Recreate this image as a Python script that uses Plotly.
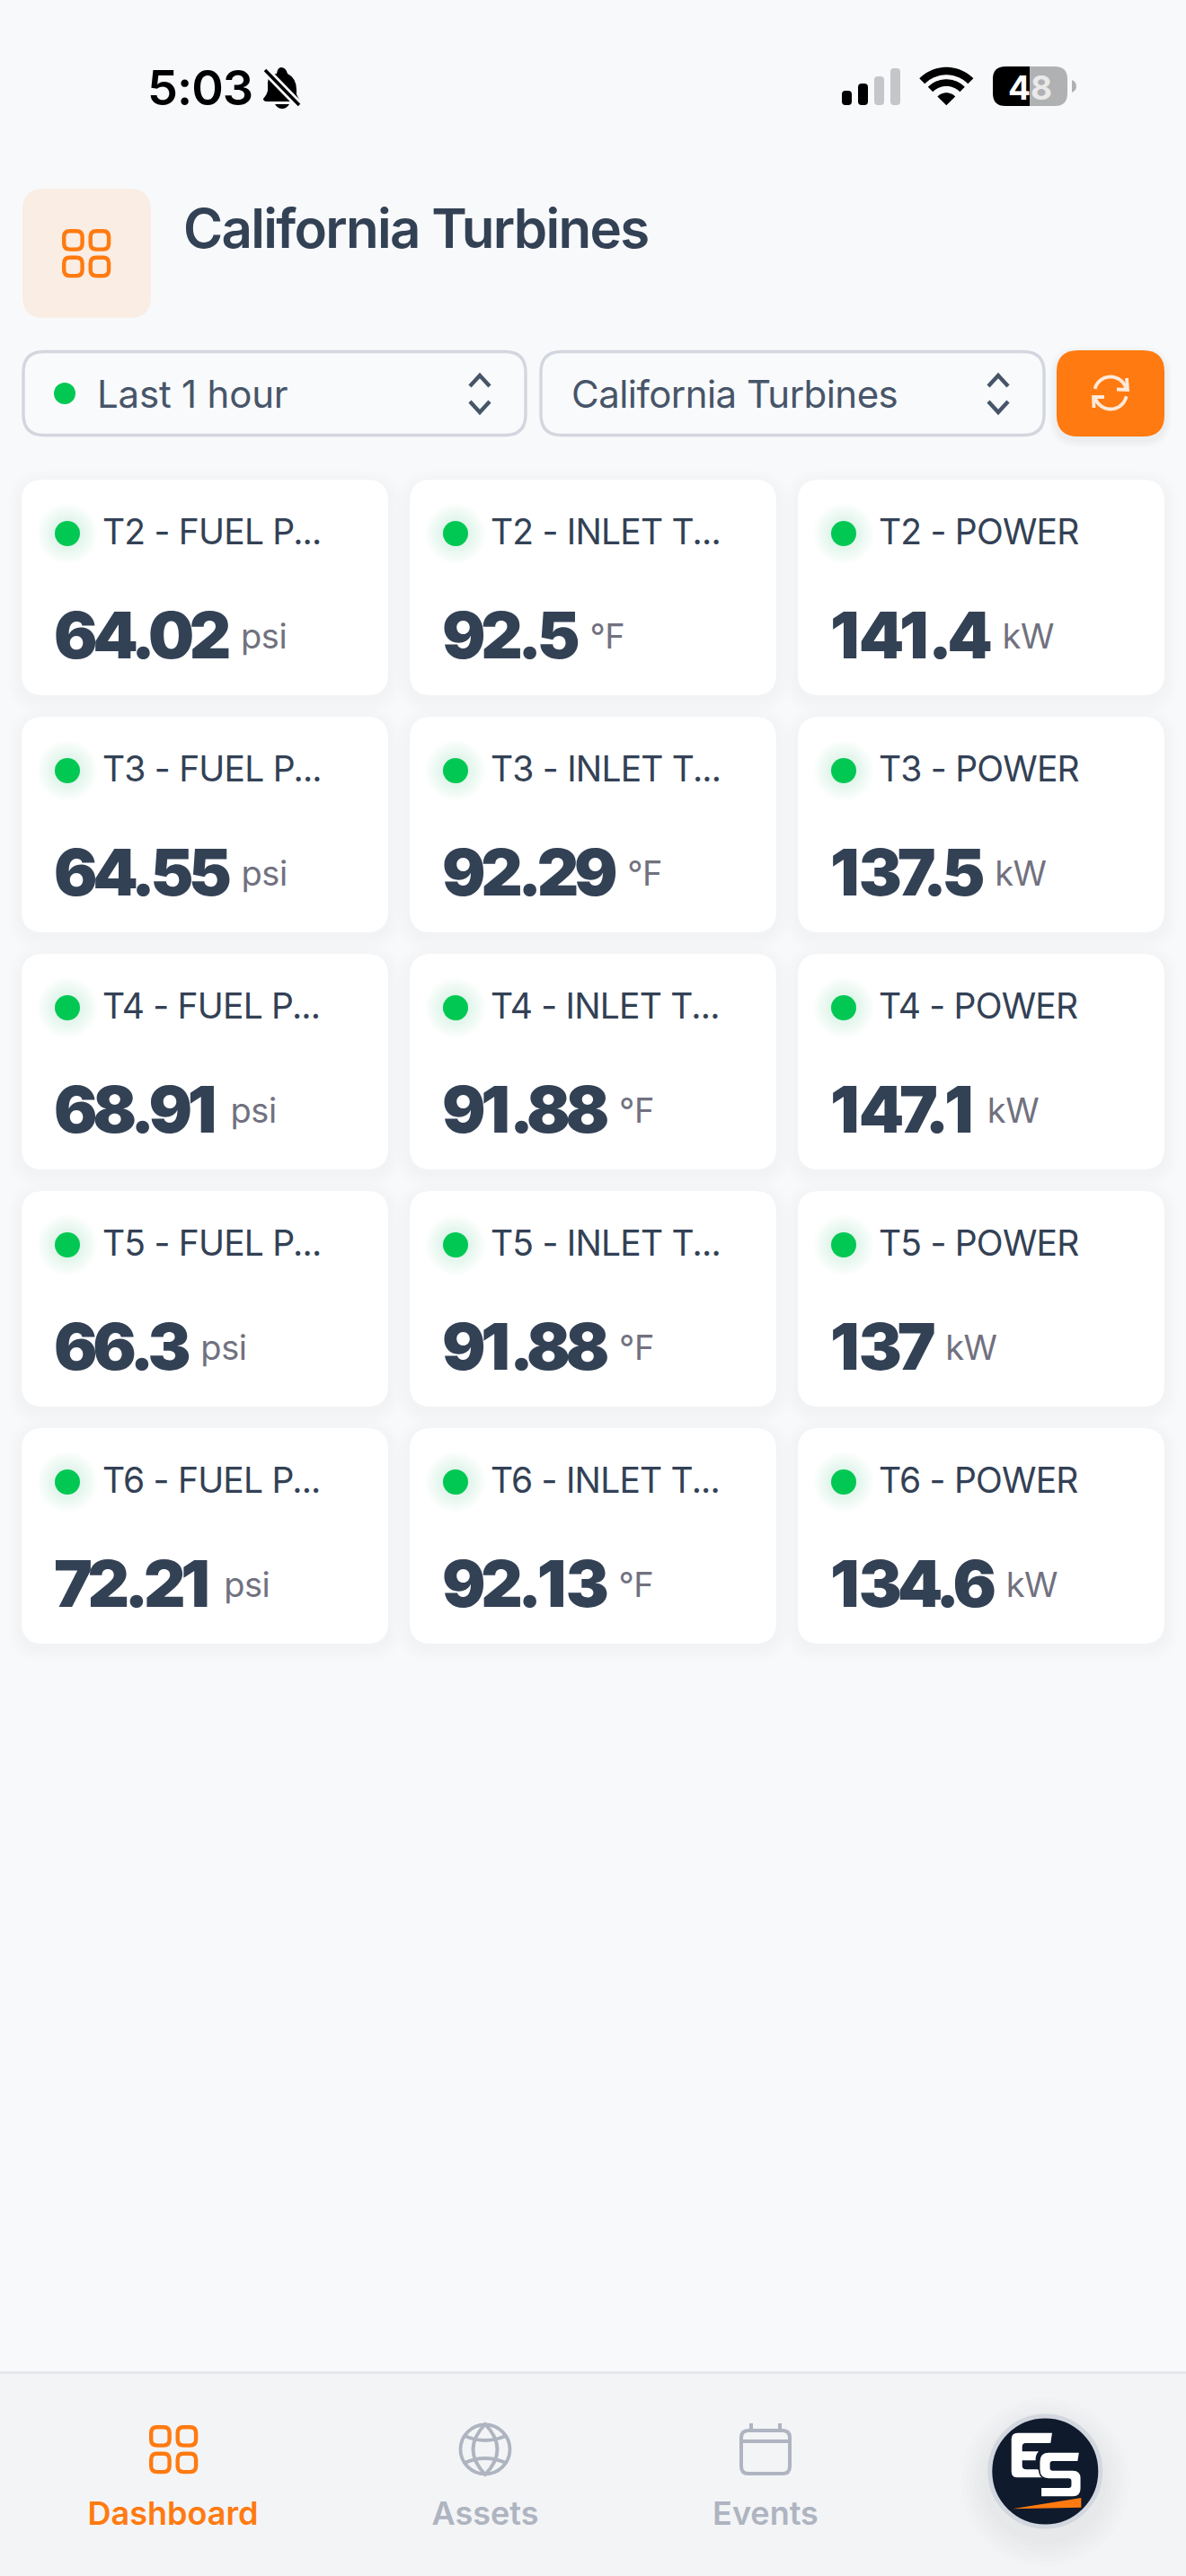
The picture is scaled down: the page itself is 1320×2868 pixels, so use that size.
import numpy as np
import plotly.graph_objects as go

# turbine readings, one list per column of the dashboard
turbines = ['T2', 'T3', 'T4', 'T5', 'T6']
metric_labels = ['FUEL P...', 'INLET T...', 'POWER']
metric_units = ['psi', '°F', 'kW']
fuel_psi = [64.02, 64.55, 68.91, 66.3, 72.21]
inlet_f = [92.5, 92.29, 91.88, 91.88, 92.13]
power_kw = [141.4, 137.5, 147.1, 137, 134.6]
nav_labels = ['Dashboard', 'Assets', 'Events']

W, H = 1320, 2868
BG = '#f8f9fb'
NAV_BG = '#f3f4f6'
ORANGE = '#ff7a10'
SLATE = '#334155'
SLATE_SOFT = '#475569'
UNIT_GREY = '#71717f'
NAV_GREY = '#aeb4c0'
GREEN = '#00c853'
BORDER = '#d3d6de'
FONT = 'Inter'

CARD_X = [24, 456, 888]
CARD_TOP = 534
CARD_W, CARD_H, ROW_STEP = 408, 240, 264

shapes = []
fig = go.Figure()


def rr_path(x0, y0, x1, y1, r):
  '''Rounded rectangle as an svg path'''
  return (f'M{x0 + r},{y0} L{x1 - r},{y0} Q{x1},{y0} {x1},{y0 + r} L{x1},{y1 - r} Q{x1},{y1} {x1 - r},{y1} '
          f'L{x0 + r},{y1} Q{x0},{y1} {x0},{y1 - r} L{x0},{y0 + r} Q{x0},{y0} {x0 + r},{y0} Z')


def add_path(path, fill=None, line=None, width=0, opacity=1):
  shapes.append(dict(type='path', path=path, fillcolor=fill or 'rgba(0,0,0,0)', opacity=opacity, layer='below',
                     line=dict(color=line or 'rgba(0,0,0,0)', width=width)))


def add_shadow(x0, y0, x1, y1, r, dy, spread, steps=6, alpha=0.005):
  '''Soft drop shadow made of stacked translucent rectangles'''
  for i in range(steps):
    grow = spread * (1 - i / steps)
    add_path(rr_path(x0 - grow, y0 - grow + dy, x1 + grow, y1 + grow + dy, r + grow), fill=f'rgba(15,23,42,{alpha})')


def add_circle(cx, cy, r, fill=None, line=None, width=0):
  shapes.append(dict(type='circle', x0=cx - r, x1=cx + r, y0=cy - r, y1=cy + r, layer='below',
                     fillcolor=fill or 'rgba(0,0,0,0)', line=dict(color=line or 'rgba(0,0,0,0)', width=width)))


def polyline(points, close=False):
  return 'M' + ' L'.join(f'{x:.2f},{y:.2f}' for x, y in points) + (' Z' if close else '')


def arc_points(cx, cy, r, a0, a1, n=24):
  '''Angles in degrees, 0 = right, 90 = down'''
  t = np.radians(np.linspace(a0, a1, n))
  return list(zip(cx + r * np.cos(t), cy + r * np.sin(t)))


def add_text(x, y, text, size, color, weight=400, align='right', spacing=0):
  '''y is the text baseline, plotly sits the text about a quarter of the size above the point'''
  span = f'<span style="letter-spacing:{spacing}px">{text}</span>' if spacing else text
  fig.add_trace(go.Scatter(x=[x], y=[y + 0.25 * size], mode='text', text=[span], textposition=f'top {align}',
                           cliponaxis=False, hoverinfo='skip', showlegend=False,
                           textfont=dict(family=FONT, size=size, color=color, weight=weight)))


def reading_text(value, unit):
  '''Big tight number followed by the small unit, raised to the middle of the digits'''
  digits = ''
  for ch in f'{value:g}':
    # the 1 runs a bit wider in the reference than in this font
    gap = -0.7 if ch == '1' else -5.4
    digits += f'<span style="letter-spacing:{gap}px">{ch}</span>'
  spacer = '<span style="font-size:38px;letter-spacing:8.5px"> </span>'
  small = (f'<span style="font-size:38px;font-weight:400;fill:{UNIT_GREY};letter-spacing:-0.5px;'
           f'baseline-shift:11px">{unit}</span>')
  return digits + spacer + small


def grid_icon(x0, y0, color):
  for dx in (0, 29.5):
    for dy in (0, 29.5):
      add_path(rr_path(x0 + dx + 2.2, y0 + dy + 2.2, x0 + dx + 22.6, y0 + dy + 22.6, 6.5), line=color, width=4.4)


def status_bar():
  add_text(164, 117, '5:03', 54, '#000000', 600, spacing=-1)
  # muted bell
  add_path('M313,75 Q318,75 320,82 Q330,87 330,100 L330,105 Q332,110 335,113 L297,113 Q293,113 293,110 '
           'Q298,104 298,100 L298,92 Q298,83 308,82 Q309,75 313,75 Z', fill='#000000')
  add_path('M306,116 L322,116 Q319,121 314,121 Q309,121 306,116 Z', fill='#000000')
  add_path('M293,76 L334,118', line=BG, width=9)
  add_path('M295,78 L333,117', line='#000000', width=3.6)
  # signal bars
  bars = [(937, 101, '#000000'), (955, 93, '#000000'), (973, 85, '#c4c6c9'), (991, 76, '#c4c6c9')]
  for x, top, color in bars:
    add_path(rr_path(x, top, x + 11, 117, 4), fill=color)
  # wifi
  ax, ay = 1053.3, 117.3
  for r_in, r_out in ((34, 42.5), (21.3, 29)):
    pts = arc_points(ax, ay, r_out, -135, -45) + arc_points(ax, ay, r_in, -45, -135)
    add_path(polyline(pts, True), fill='#000000')
  add_path(polyline([(ax, ay)] + arc_points(ax, ay, 14, -135, -45), True), fill='#000000')
  # battery, black up to the charge level
  add_path('M1146,74 L1119,74 Q1105,74 1105,88 L1105,104 Q1105,118 1119,118 L1146,118 Z', fill='#000000')
  add_path('M1146,74 L1174,74 Q1188,74 1188,88 L1188,104 Q1188,118 1174,118 L1146,118 Z', fill='#b0b1b3')
  add_path('M1193,89 Q1198,91 1198,96 Q1198,101 1193,103 Z', fill='#b0b1b3')
  add_text(1146.5, 110.5, '4<span style="fill:#e9e9e9">8</span>', 37, '#ffffff', 700, 'center')


def header():
  add_path(rr_path(25, 210, 168, 354, 24), fill='#f9ede4')
  grid_icon(69, 255, ORANGE)
  add_text(204, 276, 'California Turbines', 60, SLATE, 600, spacing=-1.7)


def controls():
  for x0, x1, label, text_x, gap in ((26, 585, 'Last 1 hour', 108, -0.2), (602, 1162, 'California Turbines', 636, -0.55)):
    add_path(rr_path(x0, 391.5, x1, 484.5, 23), fill='#f9fafb', line=BORDER, width=3.4)
    add_text(text_x, 454, label, 42, SLATE_SOFT, spacing=gap)
    cx = x1 - 51
    add_path(f'M{cx - 11},430 L{cx},418 L{cx + 11},430', line=SLATE_SOFT, width=4.4)
    add_path(f'M{cx - 11},447 L{cx},459 L{cx + 11},447', line=SLATE_SOFT, width=4.4)
  add_circle(72, 438, 12, fill=GREEN)
  # refresh button
  add_shadow(1176, 390, 1296, 486, 24, 4, 8, steps=4, alpha=0.012)
  add_path(rr_path(1176, 390, 1296, 486, 24), fill=ORANGE)
  cx, cy, r = 1236, 437.5, 18
  add_path(polyline(arc_points(cx, cy, r, -165, -18)), line='#ffeadb', width=3.8)
  add_path(polyline(arc_points(cx, cy, r, 12, 165)), line='#ffeadb', width=3.8)
  add_path('M1254,421 L1255,434 L1243,433.5', line='#ffeadb', width=3.8)
  add_path('M1217.5,454 L1217,442 L1229,442', line='#ffeadb', width=3.8)


def cards():
  columns = [fuel_psi, inlet_f, power_kw]
  for c, values in enumerate(columns):
    for r, value in enumerate(values):
      x0, y0 = CARD_X[c], CARD_TOP + r * ROW_STEP
      add_shadow(x0, y0, x0 + CARD_W, y0 + CARD_H, 24, 5, 16)
  dot_x, dot_y = [], []
  for c, values in enumerate(columns):
    for r, value in enumerate(values):
      x0, y0 = CARD_X[c], CARD_TOP + r * ROW_STEP
      add_path(rr_path(x0, y0, x0 + CARD_W, y0 + CARD_H, 24), fill='#ffffff')
      dot_x.append(x0 + 51)
      dot_y.append(y0 + 60)
      add_text(x0 + 90, y0 + 72, f'{turbines[r]} - {metric_labels[c]}', 39, SLATE, spacing=-0.8)
      add_text(x0 + 36, y0 + 199, reading_text(value, metric_units[c]), 72, SLATE, 900)
  # status dots with their green halo, widest ring first
  for size in range(68, 28, -4):
    fig.add_trace(go.Scatter(x=dot_x, y=dot_y, mode='markers', hoverinfo='skip', showlegend=False, cliponaxis=False,
                             marker=dict(size=size, color='rgba(0,200,83,0.012)', line=dict(width=0))))
  fig.add_trace(go.Scatter(x=dot_x, y=dot_y, mode='markers', hoverinfo='skip', showlegend=False, cliponaxis=False,
                           marker=dict(size=28, color=GREEN, line=dict(width=0))))


def logo():
  cx, cy = 1163.3, 2751.5
  for i in range(6):
    add_circle(cx, cy + 12, 64 + (6 - i) * 5, fill='rgba(15,23,42,0.006)')
  add_circle(cx, cy, 61.5, fill='#0f1a2c', line='#d3d7df', width=5)
  # ES mark, drawn in the coordinates of a 3x crop of the badge
  def p(x, y):
    return f'{1090 + x / 3:.1f},{2670 + y / 3:.1f}'
  add_path(f'M{p(128, 116)} L{p(243, 116)} L{p(238, 150)} L{p(155, 150)} Q{p(143, 150)} {p(143, 162)} L{p(143, 178)} '
           f'L{p(198, 178)} Q{p(186, 192)} {p(188, 208)} L{p(143, 208)} L{p(143, 226)} Q{p(143, 238)} {p(157, 238)} '
           f'L{p(195, 238)} Q{p(205, 254)} {p(222, 265)} L{p(128, 265)} Q{p(107, 265)} {p(107, 245)} L{p(107, 136)} '
           f'Q{p(107, 116)} {p(128, 116)} Z', fill='#ffffff')
  add_path(f'M{p(335, 180)} L{p(232, 180)} Q{p(200, 180)} {p(200, 212)} L{p(200, 238)} Q{p(200, 270)} {p(232, 270)} '
           f'L{p(298, 270)} Q{p(305, 270)} {p(305, 277)} L{p(305, 291)} Q{p(305, 298)} {p(298, 298)} L{p(205, 298)} '
           f'L{p(205, 330)} L{p(312, 330)} Q{p(340, 330)} {p(340, 302)} L{p(340, 268)} Q{p(340, 240)} {p(312, 240)} '
           f'L{p(245, 240)} Q{p(238, 240)} {p(238, 233)} L{p(238, 219)} Q{p(238, 212)} {p(245, 212)} L{p(330, 212)} Z',
           fill='#ffffff', line='#0f1a2c', width=1.5)
  add_path(f'M{p(110, 370)} L{p(340, 333)} L{p(340, 365)} Z', fill=ORANGE)


def nav_bar():
  shapes.append(dict(type='rect', x0=0, x1=W, y0=2640, y1=H, layer='below', fillcolor=NAV_BG, line=dict(width=0)))
  shapes.append(dict(type='rect', x0=0, x1=W, y0=2640, y1=2643, layer='below', fillcolor='#e5e7eb', line=dict(width=0)))
  grid_icon(166, 2700, ORANGE)
  # globe
  gx, gy = 540, 2727
  add_circle(gx, gy, 27.5, line=NAV_GREY, width=3.8)
  add_path(f'M{gx},{gy - 28} Q{gx - 27},{gy} {gx},{gy + 28} Q{gx + 27},{gy} {gx},{gy - 28} Z', line=NAV_GREY, width=3.8)
  add_path(f'M{gx - 23},{gy - 15} Q{gx},{gy - 5} {gx + 23},{gy - 15}', line=NAV_GREY, width=3.8)
  add_path(f'M{gx - 23},{gy + 15} Q{gx},{gy + 5} {gx + 23},{gy + 15}', line=NAV_GREY, width=3.8)
  # calendar
  add_path(rr_path(825, 2706, 879, 2754, 8), line=NAV_GREY, width=4)
  add_path('M825,2718 L879,2718', line=NAV_GREY, width=4)
  add_path('M836,2698 L836,2706 M868,2698 L868,2706', line=NAV_GREY, width=4)
  for x, label, color in zip((192.5, 540, 852), nav_labels, (ORANGE, NAV_GREY, NAV_GREY)):
    add_text(x, 2811, label, 36, color, 600, 'center')
  logo()


status_bar()
header()
controls()
cards()
nav_bar()

fig.update_layout(
    width=W, height=H, margin=dict(l=0, r=0, t=0, b=0), paper_bgcolor=BG, plot_bgcolor=BG,
    showlegend=False, hovermode=False, shapes=shapes,
    xaxis=dict(range=[0, W], visible=False, fixedrange=True),
    yaxis=dict(range=[H, 0], visible=False, fixedrange=True),
)
fig.write_html('out.html', config=dict(displayModeBar=False),
               post_script="document.body.style.margin='0';document.body.style.background='%s';" % BG)
